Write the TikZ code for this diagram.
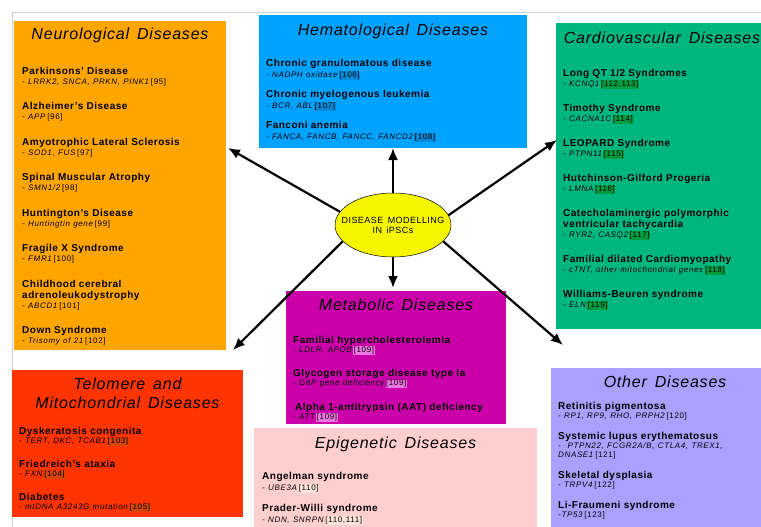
\documentclass[tikz,border=0pt]{standalone}
\usepackage{fontspec}
\setmainfont{Liberation Sans}[LetterSpace=5,WordSpace=1.5]
\newfontfamily\genefam{Liberation Sans}[LetterSpace=8,WordSpace=1.3]
\usetikzlibrary{positioning,shapes.geometric,arrows.meta}
\definecolor{Neurocol}{RGB}{255,165,0}
\definecolor{Hemacol}{RGB}{0,163,255}
\definecolor{Cardiocol}{RGB}{0,182,128}
\definecolor{Cardioref}{RGB}{0,156,64}
\definecolor{Metacol}{RGB}{204,0,170}
\definecolor{Metaref}{RGB}{238,120,225}
\definecolor{Telocol}{RGB}{255,52,0}
\definecolor{Teloref}{RGB}{215,70,10}
\definecolor{Epicol}{RGB}{255,206,206}
\definecolor{Epiref}{RGB}{255,228,218}
\definecolor{Othercol}{RGB}{172,160,255}
\definecolor{Hubcol}{RGB}{246,246,0}
\colorlet{Hemaref}{Hemacol!85!black}
\colorlet{Framecol}{black!18}
\colorlet{refbg}{white}
\newlength\entrygap
\newlength\genesep
\newcommand\refno[1]{{\upshape\setlength\fboxsep{0.5pt}\colorbox{refbg}{[#1]}}}
\newcommand\entry[3]{%
  {\fontsize{10}{11}\selectfont\bfseries #1\par}%
  {\genefam\fontsize{8}{\the\genesep}\selectfont\itshape #2\,\refno{#3}\par}%
  \vspace{\entrygap}}
\tikzset{
  panel/.style={fill=#1, anchor=north west, inner sep=0pt, outer sep=0pt},
  paneltitle/.style={font=\fontsize{16}{19}\selectfont\itshape, align=center, inner sep=0pt},
  boxtext/.style n args={4}{anchor=north west, inner sep=0pt, text width=#1, align=left,
    execute at begin node={\parindent=0pt\setlength\entrygap{#2}\setlength\genesep{#3}\colorlet{refbg}{#4}}},
  hub/.style={ellipse, draw=black, line width=0.5pt, fill=Hubcol, minimum width=116pt,
    minimum height=64pt, inner xsep=-12pt, inner ysep=0pt, align=center,
    font=\fontsize{9}{10}\selectfont},
  spoke/.style={-{Latex[length=12pt,width=10pt]}, line width=2.2pt},
}
\begin{document}
\begin{tikzpicture}[x=1pt,y=-1pt]
  \clip (0,0) rectangle (761,527);
  \fill[white] (0,0) rectangle (761,527);
  \draw[Framecol, line width=1pt] (12,527) |- (761,13);

  % disease groups
  \node[panel=Neurocol, minimum width=212pt, minimum height=329pt] (neuro) at (14,21) {};
  \node[panel=Hemacol, minimum width=268pt, minimum height=133pt] (hema) at (259,15) {};
  \node[panel=Cardiocol, minimum width=212pt, minimum height=306pt] (cardio) at (556,23) {};
  \node[panel=Metacol, minimum width=220pt, minimum height=133pt] (meta) at (286,291) {};
  \node[panel=Telocol, minimum width=231pt, minimum height=147pt] (telo) at (12,370) {};
  \node[panel=Epicol, minimum width=283pt, minimum height=110pt] (epi) at (254,428) {};
  \node[panel=Othercol, minimum width=228pt, minimum height=170pt] (other) at (551,368) {};

  \node[paneltitle, below=7pt of neuro.north] (neurotitle) {Neurological Diseases};
  \node[paneltitle, below=9pt of hema.north] (hematitle) {Hematological Diseases};
  \node[paneltitle, below=9pt of cardio.north] (cardiotitle) {Cardiovascular Diseases};
  \node[paneltitle, below=8pt of meta.north] (metatitle) {Metabolic Diseases};
  \node[paneltitle, below=8pt of telo.north] (telotitle) {Telomere and\\Mitochondrial Diseases};
  \node[paneltitle, below=9pt of epi.north] (epititle) {Epigenetic Diseases};
  \node[paneltitle, below=8pt of other.north] (othertitle) {Other Diseases};

  \node[boxtext={205pt}{14.5pt}{10pt}{Neurocol}, below right=46pt and 8pt of neuro.north west] (neurolist) {%
    \entry{Parkinsons' Disease}{- LRRK2, SNCA, PRKN, PINK1}{95}
    \entry{Alzheimer's Disease}{- APP}{96}
    \entry{Amyotrophic Lateral Sclerosis}{- SOD1, FUS}{97}
    \entry{Spinal Muscular Atrophy}{- SMN1/2}{98}
    \entry{Huntington's Disease}{- Huntingtin gene}{99}
    \entry{Fragile X Syndrome}{- FMR1}{100}
    \entry{Childhood cerebral\newline adrenoleukodystrophy}{- ABCD1}{101}
    \entry{Down Syndrome}{- Trisomy of 21}{102}};
  \node[boxtext={260pt}{9pt}{11pt}{Hemaref}, below right=44pt and 7pt of hema.north west] (hemalist) {%
    \entry{Chronic granulomatous disease}{- NADPH oxidase}{106}
    \entry{Chronic myelogenous leukemia}{- BCR, ABL}{107}
    \entry{Fanconi anemia}{- FANCA, FANCB, FANCC, FANCD2}{108}};
  \node[boxtext={200pt}{14pt}{10pt}{Cardioref}, below right=46pt and 7pt of cardio.north west] (cardiolist) {%
    \entry{Long QT 1/2 Syndromes}{- KCNQ1}{112,113}
    \entry{Timothy Syndrome}{- CACNA1C}{114}
    \entry{LEOPARD Syndrome}{- PTPN11}{115}
    \entry{Hutchinson-Gilford Progeria}{- LMNA}{116}
    \entry{Catecholaminergic polymorphic\newline ventricular tachycardia}{- RYR2, CASQ2}{117}
    \entry{Familial dilated Cardiomyopathy}{- cTNT, other mitochondrial genes}{118}
    \entry{Williams-Beuren syndrome}{- ELN}{119}};
  \node[boxtext={212pt}{13.5pt}{9pt}{Metaref}, below right=45pt and 7pt of meta.north west] (metalist) {%
    \entry{Familial hypercholesterolemia}{- LDLR, APOB}{109}
    \entry{Glycogen storage disease type Ia}{- G6P gene deficiency}{109}
    \entry{\hspace{2pt}Alpha 1-antitrypsin (AAT) deficiency}{- ATT}{109}};
  \node[boxtext={220pt}{12.5pt}{9.5pt}{Teloref}, below right=57pt and 7pt of telo.north west] (telolist) {%
    \entry{Dyskeratosis congenita}{- TERT, DKC, TCAB1}{103}
    \entry{Friedreich's ataxia}{- FXN}{104}
    \entry{Diabetes}{- mtDNA A3243G mutation}{105}};
  \node[boxtext={270pt}{10pt}{11pt}{Epiref}, below right=44pt and 8pt of epi.north west] (epilist) {%
    \entry{Angelman syndrome}{- UBE3A}{110}
    \entry{Prader-Willi syndrome}{- NDN, SNRPN}{110,111}};
  \node[boxtext={205pt}{10pt}{7pt}{Othercol}, below right=34pt and 7pt of other.north west] (otherlist) {%
    \entry{Retinitis pigmentosa}{- RP1, RP9, RHO, PRPH2}{120}
    \entry{Systemic lupus erythematosus}{-\ \ PTPN22, FCGR2A/B, CTLA4, TREX1,\newline DNASE1}{121}
    \entry{Skeletal dysplasia}{- TRPV4}{122}
    \entry{Li-Fraumeni syndrome}{-TP53}{123}};

  % centre and spokes
  \node[hub] (hub) at (393,225) {DISEASE MODELLING\\IN iPSCs};
  \coordinate (nwtip) at (228,148);
  \coordinate (netip) at (557,140);
  \coordinate (swtip) at (233,350);
  \coordinate (setip) at (563,345);
  \draw[spoke] (hub.north) -- (hema.south);
  \draw[spoke, shorten >=3pt] (hub.south) -- (hub.south |- meta.north);
  \draw[spoke] (hub.166) -- (nwtip);
  \draw[spoke] (hub.10) -- (netip);
  \draw[spoke] (hub.198) -- (swtip);
  \draw[spoke] (hub.342) -- (setip);
\end{tikzpicture}
\end{document}
